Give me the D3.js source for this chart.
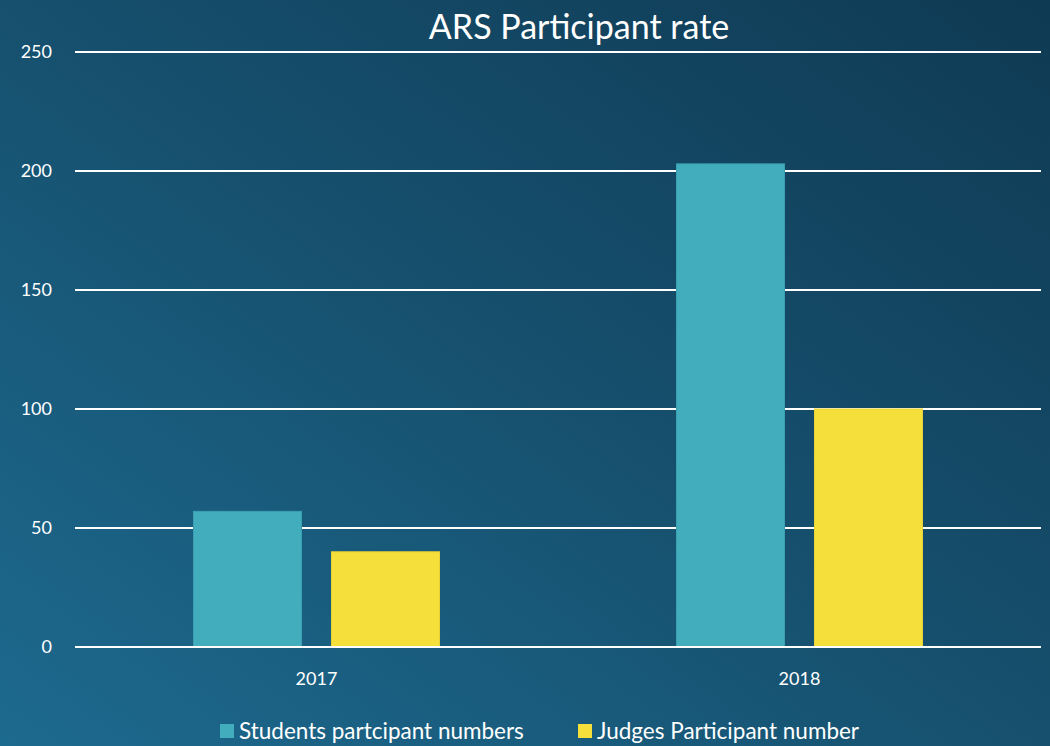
<!DOCTYPE html>
<html><head><meta charset="utf-8">
<script src="https://cdn.jsdelivr.net/npm/d3@7"></script>
<style>html,body{margin:0;padding:0;background:#174f6c;overflow:hidden}</style>
</head><body>
<svg id="c" width="1050" height="746"></svg>
<script>
const categories = ["2017", "2018"];
const seriesNames = ["Students partcipant numbers", "Judges Participant number"];
const students = [57, 203];
const judges = [40, 100];
const yTicks = [0, 50, 100, 150, 200, 250];
const colors = ["#42aebd", "#f4df3b"];

const svg = d3.select("#c");
const W = 1050, H = 746;
const font = "Lato, 'Open Sans', sans-serif";

const defs = svg.append("defs");
const g = defs.append("linearGradient").attr("id","bg")
  .attr("x1","0%").attr("y1","100%").attr("x2","100%").attr("y2","0%");
g.append("stop").attr("offset","0%").attr("stop-color","#1d6a8f");
g.append("stop").attr("offset","50%").attr("stop-color","#16506e");
g.append("stop").attr("offset","100%").attr("stop-color","#0f3a53");
svg.append("rect").attr("width",W).attr("height",H).attr("fill","url(#bg)");

const m = {left:75, right:1041, top:52, bottom:647};
const x0 = d3.scaleBand().domain(categories).range([m.left, m.right]).paddingInner(0).paddingOuter(0);
const y = d3.scaleLinear().domain([0,250]).range([m.bottom, m.top]);

// gridlines
svg.append("g").selectAll("line").data(yTicks).join("line")
  .attr("x1", m.left).attr("x2", m.right)
  .attr("y1", d=>y(d)).attr("y2", d=>y(d))
  .attr("stroke","#ffffff").attr("stroke-width",2);

// y labels
svg.append("g").selectAll("text").data(yTicks).join("text")
  .attr("x", 52).attr("y", d=>y(d)).attr("dy","0.35em")
  .attr("text-anchor","end").attr("fill","#ffffff")
  .attr("font-family",font).attr("font-size",18).text(d=>d);

// bars
const barW = 108, gap = 30;
const data = categories.map((c,i)=>({c, vals:[students[i], judges[i]]}));
const grp = svg.append("g").selectAll("g").data(data).join("g");
grp.selectAll("rect").data(d=>d.vals.map((v,k)=>({c:d.c,v,k}))).join("rect")
  .attr("x", d=> x0(d.c) + x0.bandwidth()/2 - (barW*2+gap)/2 + d.k*(barW+gap))
  .attr("y", d=>y(d.v)).attr("width", barW).attr("height", d=>y(0)-y(d.v))
  .attr("fill", d=>colors[d.k])
  .attr("stroke", d=> d.k===0 ? "#3a9fb0" : "#e6d236").attr("stroke-width",1);

// redraw zero line on top
svg.append("line").attr("x1",m.left).attr("x2",m.right).attr("y1",y(0)).attr("y2",y(0))
  .attr("stroke","#fff").attr("stroke-width",2);

// x labels
svg.append("g").selectAll("text").data(categories).join("text")
  .attr("x", d=>x0(d)+x0.bandwidth()/2).attr("y", 679).attr("dy","0.35em")
  .attr("text-anchor","middle").attr("fill","#fff")
  .attr("font-family",font).attr("font-size",18).text(d=>d);

// title
svg.append("text").attr("x",579).attr("y",27).attr("dy","0.35em")
  .attr("text-anchor","middle").attr("fill","#fff")
  .attr("font-family",font).attr("font-size",34).text("ARS Participant rate");

// legend
const legX = [220, 578];
const leg = svg.append("g").selectAll("g").data(seriesNames).join("g")
  .attr("transform",(d,i)=>`translate(${legX[i]},731)`);
leg.append("rect").attr("x",0).attr("y",-7).attr("width",14).attr("height",14)
  .attr("fill",(d,i)=>colors[i]);
leg.append("text").attr("x",19).attr("y",0).attr("dy","0.35em")
  .attr("fill","#fff").attr("font-family",font).attr("font-size",22.5).text(d=>d);
</script>
</body></html>
